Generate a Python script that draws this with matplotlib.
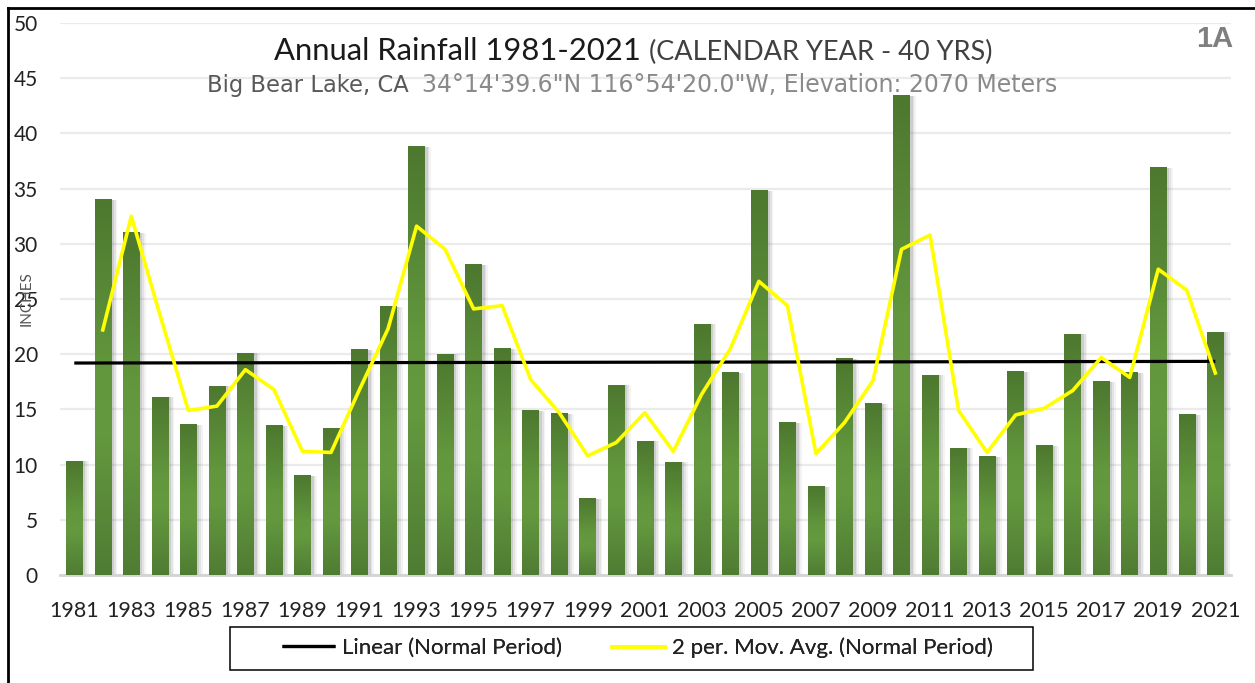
import numpy as np
import matplotlib
matplotlib.use('Agg')
import matplotlib.pyplot as plt
from matplotlib.colors import LinearSegmentedColormap
from matplotlib.lines import Line2D
from matplotlib.patches import Rectangle

plt.rcParams['font.family'] = ['Lato', 'DejaVu Sans']

# annual rainfall (inches)
years = list(range(1981, 2022))
rainfall = [10.3, 34.0, 31.0, 16.1, 13.6, 17.1, 20.1, 13.5, 9.0, 13.3,
            20.4, 24.3, 38.8, 20.0, 28.1, 20.5, 14.9, 14.6, 6.9, 17.2,
            12.1, 10.2, 22.7, 18.3, 34.8, 13.8, 8.0, 19.6, 15.5, 43.4,
            18.1, 11.5, 10.7, 18.4, 11.7, 21.8, 17.5, 18.3, 36.9, 14.5,
            22.0]
# 2 per. moving average line (1982-2021)
mov_avg = [22.2, 32.5, 23.6, 14.9, 15.3, 18.6, 16.8, 11.2, 11.1, 16.8,
           22.3, 31.6, 29.5, 24.1, 24.4, 17.7, 14.7, 10.8, 12.0, 14.7,
           11.2, 16.4, 20.5, 26.6, 24.4, 11.0, 13.8, 17.6, 29.5, 30.8,
           14.9, 11.1, 14.5, 15.1, 16.7, 19.7, 17.9, 27.7, 25.8, 18.3]
# linear trend end values
linear_trend = [19.2, 19.35]

W, H = 1255, 683
fig = plt.figure(figsize=(W / 100, H / 100), dpi=100)
ax = fig.add_axes([60 / W, 1 - 575 / H, (1231 - 60) / W, (575 - 23) / H])

# soft shadow behind the bars
for k, a in zip([0.10, 0.16, 0.22], [0.16, 0.11, 0.07]):
    ax.bar(np.array(years) + k, rainfall, width=0.58, color='#606060',
           alpha=a, zorder=2, linewidth=0)

bars = ax.bar(years, rainfall, width=0.58, color='#5a8c3a', zorder=3,
              linewidth=0)

cmap = LinearSegmentedColormap.from_list(
    'bar', [(0.0, '#4f7c33'), (0.38, '#64993f'), (0.55, '#62973d'),
            (1.0, '#4d782f')])
grad = np.linspace(0, 1, 256).reshape(-1, 1)
for r in bars:
    x0, w, h = r.get_x(), r.get_width(), r.get_height()
    ax.imshow(grad, extent=[x0, x0 + w, 0, h], origin='lower', cmap=cmap,
              aspect='auto', zorder=3.5, interpolation='bilinear')

lin, = ax.plot([years[0], years[-1]], linear_trend, color='black', lw=2.3,
               zorder=5, solid_capstyle='butt')
mov, = ax.plot(years[1:], mov_avg, color='#ffff00', lw=2.6, zorder=6)

ax.set_xlim(years[0] - 0.5, years[-1] + 0.55)
ax.set_ylim(0, 50)
ax.set_yticks(range(0, 51, 5))
ax.set_xticks(years[::2])
ax.tick_params(axis='both', length=0, labelsize=15, colors='#222222')
ax.tick_params(axis='x', pad=19, labelsize=15.5)
ax.tick_params(axis='y', pad=16)
ax.yaxis.grid(True, color='#ebebeb', lw=1.6, zorder=0)
ax.set_axisbelow(True)
for s in ['top', 'right', 'left']:
    ax.spines[s].set_visible(False)
ax.spines['bottom'].set_color('#d4d4d4')
ax.spines['bottom'].set_linewidth(2)
ax.set_facecolor('none')

# axis title sits over the "25" label, as in the original
fig.text(27 / W, 1 - 299 / H, 'INCHES', rotation=90, ha='center',
         va='center', fontsize=11, color='#555555')

# titles
fig.text(641 / W, 1 - 60 / H, 'Annual Rainfall 1981-2021', ha='right',
         va='baseline', fontsize=22.3, color='#1a1a1a')
fig.text(649 / W, 1 - 60 / H, '(CALENDAR YEAR - 40 YRS)', ha='left',
         va='baseline', fontsize=19.5, color='#404040')
fig.text(207 / W, 1 - 92 / H, 'Big Bear Lake, CA', ha='left',
         va='baseline', fontsize=16.3, color='#595959', family='DejaVu Sans')
fig.text(1057 / W, 1 - 92 / H,
         '34°14\'39.6"N 116°54\'20.0"W, Elevation: 2070 Meters',
         ha='right', va='baseline', fontsize=17, color='#8a8a8a',
         family='DejaVu Sans')
fig.text(1233 / W, 1 - 25 / H, '1A', ha='right', va='top', fontsize=21,
         fontweight='bold', color='#7f7f7f', family='Liberation Sans')

# legend box and its two entries
fig.add_artist(Rectangle((230 / W, 1 - 670 / H), (1033 - 230) / W,
                         (670 - 627) / H, transform=fig.transFigure,
                         fill=False, edgecolor='black', lw=1.1))
for handle, label, x in [(lin, 'Linear (Normal Period)', 282),
                         (mov, '2 per. Mov. Avg. (Normal Period)', 612)]:
    leg = fig.legend([handle], [label], loc='center left',
                     bbox_to_anchor=(x / W, 1 - 648 / H), frameon=False,
                     fontsize=16, handlelength=2.4, handletextpad=0.28,
                     borderpad=0, borderaxespad=0, labelcolor='#222222')
    fig.add_artist(leg)

# frame of the screenshot (left and top edges)
fig.add_artist(Line2D([8 / W, 8 / W], [0, 1 - 8 / H], color='black', lw=2,
                      transform=fig.transFigure))
fig.add_artist(Line2D([8 / W, 1], [1 - 8 / H, 1 - 8 / H], color='black',
                      lw=2, transform=fig.transFigure))

fig.savefig('out.png', dpi=100)
